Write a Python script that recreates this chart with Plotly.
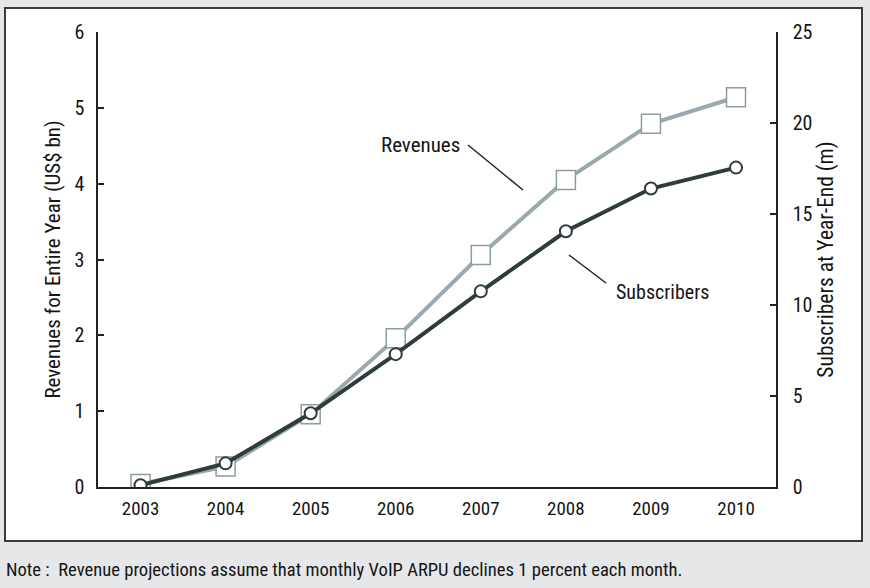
import plotly.graph_objects as go

years = [2003, 2004, 2005, 2006, 2007, 2008, 2009, 2010]
revenues = [0.04, 0.27, 0.96, 1.96, 3.06, 4.05, 4.79, 5.14]
subscribers = [0.1, 1.3, 4.05, 7.3, 10.75, 14.05, 16.4, 17.55]
left_ticks = [0, 1, 2, 3, 4, 5, 6]
right_ticks = [0, 5, 10, 15, 20, 25]

W, H = 870, 588
L, R, T, B = 98, 94, 32, 101
PW, PH = W - L - R, H - T - B

def px(x):
    return (x - L) / PW

def py(y):
    return (H - B - y) / PH

FONT = "Roboto Condensed, Liberation Sans Narrow, Arial Narrow, sans-serif"
TXT = "#151515"

fig = go.Figure()
fig.add_trace(go.Scatter(
    x=years, y=revenues, mode="lines+markers", name="Revenues",
    line=dict(color="#9aa9ae", width=4),
    marker=dict(symbol="square", size=19, color="white",
                line=dict(color="#8c9ca2", width=1.5)),
    yaxis="y"))
fig.add_trace(go.Scatter(
    x=years, y=subscribers, mode="lines+markers", name="Subscribers",
    line=dict(color="#2f3c3d", width=4),
    marker=dict(symbol="circle", size=12, color="white",
                line=dict(color="#2f3c3d", width=2)),
    yaxis="y2"))

shapes = [
    dict(type="rect", xref="paper", yref="paper",
         x0=px(5), x1=px(862), y0=py(541), y1=py(8),
         fillcolor="white", line=dict(color="#3a3a3a", width=2), layer="below"),
    dict(type="line", xref="paper", yref="paper",
         x0=px(468), y0=py(145), x1=px(523), y1=py(190),
         line=dict(color="#222222", width=1.5)),
    dict(type="line", xref="paper", yref="paper",
         x0=px(569), y0=py(255), x1=px(606), y1=py(283),
         line=dict(color="#222222", width=1.5)),
]

annotations = [
    dict(text="Revenues", xref="paper", yref="paper", x=px(420), y=py(145),
         xanchor="center", yanchor="middle",
         showarrow=False, font=dict(size=21, color=TXT, family=FONT)),
    dict(text="Subscribers", xref="paper", yref="paper", x=px(662), y=py(292),
         xanchor="center", yanchor="middle",
         showarrow=False, font=dict(size=20, color=TXT, family=FONT)),
    dict(text="Note :  Revenue projections assume that monthly VoIP ARPU declines 1 percent each month.",
         xref="paper", yref="paper", x=px(4), y=py(570), xanchor="left", yanchor="middle",
         showarrow=False, font=dict(size=18.6, color=TXT, family=FONT)),
]

fig.update_layout(
    width=W, height=H,
    margin=dict(l=L, r=R, t=T, b=B),
    paper_bgcolor="#e5e7e9",
    plot_bgcolor="white",
    showlegend=False,
    font=dict(family=FONT, color=TXT, size=20),
    shapes=shapes,
    annotations=annotations,
    xaxis=dict(range=[2002.5, 2010.47], tickvals=years, ticktext=[str(y) for y in years],
               showgrid=False, zeroline=False, showline=True, linecolor="#222222",
               linewidth=1.5, ticks="", ticklabelstandoff=3,
               tickfont=dict(size=19)),
    yaxis=dict(range=[0, 6], tickvals=left_ticks, showgrid=False, zeroline=False,
               showline=True, linecolor="#222222", linewidth=1.5,
               ticks="inside", ticklen=6, tickcolor="#222222", tickwidth=1.5,
               ticklabelstandoff=8, tickfont=dict(size=20),
               title=dict(text="Revenues for Entire Year (US$ bn)", standoff=8,
                          font=dict(size=21))),
    yaxis2=dict(range=[0, 25], tickvals=right_ticks, overlaying="y", side="right",
                showgrid=False, zeroline=False,
                showline=True, linecolor="#222222", linewidth=1.5,
                ticks="inside", ticklen=6, tickcolor="#222222", tickwidth=1.5,
                ticklabelstandoff=11, tickfont=dict(size=20),
                title=dict(text="Subscribers at Year-End (m)", standoff=4,
                           font=dict(size=21.5))),
)

fig.write_html("out.html")
